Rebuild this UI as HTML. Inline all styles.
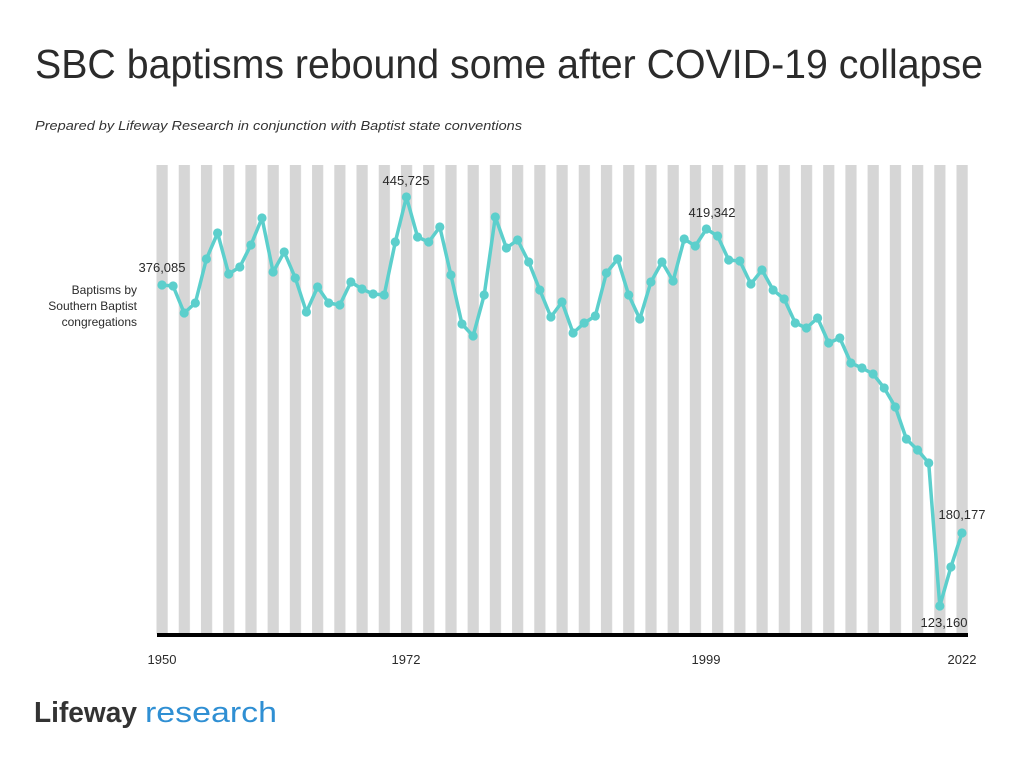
<!DOCTYPE html>
<html><head><meta charset="utf-8"><style>
html,body{margin:0;padding:0;background:#fff;}
svg{display:block;font-family:"Liberation Sans",sans-serif;}
</style></head><body>
<svg width="1024" height="764" viewBox="0 0 1024 764" xmlns="http://www.w3.org/2000/svg">
<defs>
<pattern id="st" patternUnits="userSpaceOnUse" x="156.5" y="0" width="22.222" height="764">
<rect x="0" y="0" width="11.2" height="764" fill="#d6d6d6"/>
</pattern>
<marker id="dot" markerUnits="userSpaceOnUse" markerWidth="12" markerHeight="12" refX="6" refY="6">
<circle cx="6" cy="6" r="4.6" fill="#5ccfcc"/>
</marker>
</defs>
<text x="35" y="78" font-size="41" fill="#2b2b2b" textLength="948" lengthAdjust="spacingAndGlyphs">SBC baptisms rebound some after COVID-19 collapse</text>
<text x="35" y="130" font-size="13" font-style="italic" fill="#333" textLength="487" lengthAdjust="spacingAndGlyphs">Prepared by Lifeway Research in conjunction with Baptist state conventions</text>
<rect x="156.5" y="165" width="812" height="469" fill="url(#st)"/>
<rect x="157" y="633" width="811" height="4" fill="#000"/>
<polyline fill="none" stroke="#5ccfcc" stroke-width="3.5" stroke-linejoin="round" marker-start="url(#dot)" marker-mid="url(#dot)" marker-end="url(#dot)" points="162,285 173.1,286 184.2,313 195.3,303 206.4,259 217.6,233 228.7,274 239.8,267 250.9,245 262,218 273.1,272 284.2,252 295.3,278 306.4,312 317.6,287 328.7,303 339.8,305 350.9,282 362,289 373.1,294 384.2,295 395.3,242 406.4,197 417.6,237 428.7,242 439.8,227 450.9,275 462,324 473.1,336 484.2,295 495.3,217 506.4,248 517.6,240 528.7,262 539.8,290 550.9,317 562,302 573.1,333 584.2,323 595.3,316 606.4,273 617.6,259 628.7,295 639.8,319 650.9,282 662,262 673.1,281 684.2,239 695.3,246 706.4,229 717.6,236 728.7,260 739.8,261 750.9,284 762,270 773.1,290 784.2,299 795.3,323 806.4,328 817.6,318 828.7,343 839.8,338 850.9,363 862,368 873.1,374 884.2,388 895.3,407 906.4,439 917.6,450 928.7,463 939.8,606 950.9,567 962,533"/>
<g font-size="13" fill="#2b2b2b" text-anchor="middle">
<text x="162" y="272">376,085</text>
<text x="406" y="185">445,725</text>
<text x="712" y="217">419,342</text>
<text x="962" y="519">180,177</text>
<text x="944" y="627">123,160</text>
<text x="162" y="664">1950</text>
<text x="406" y="664">1972</text>
<text x="706" y="664">1999</text>
<text x="962" y="664">2022</text>
</g>
<g font-size="12" fill="#2b2b2b" text-anchor="end">
<text x="137" y="294">Baptisms by</text>
<text x="137" y="310">Southern Baptist</text>
<text x="137" y="326">congregations</text>
</g>
<text x="34" y="722" font-size="29" font-weight="bold" fill="#333" textLength="103" lengthAdjust="spacingAndGlyphs">Lifeway</text>
<text x="145" y="722" font-size="29" fill="#2f8fd3" textLength="132" lengthAdjust="spacingAndGlyphs">research</text>
</svg>
</body></html>
